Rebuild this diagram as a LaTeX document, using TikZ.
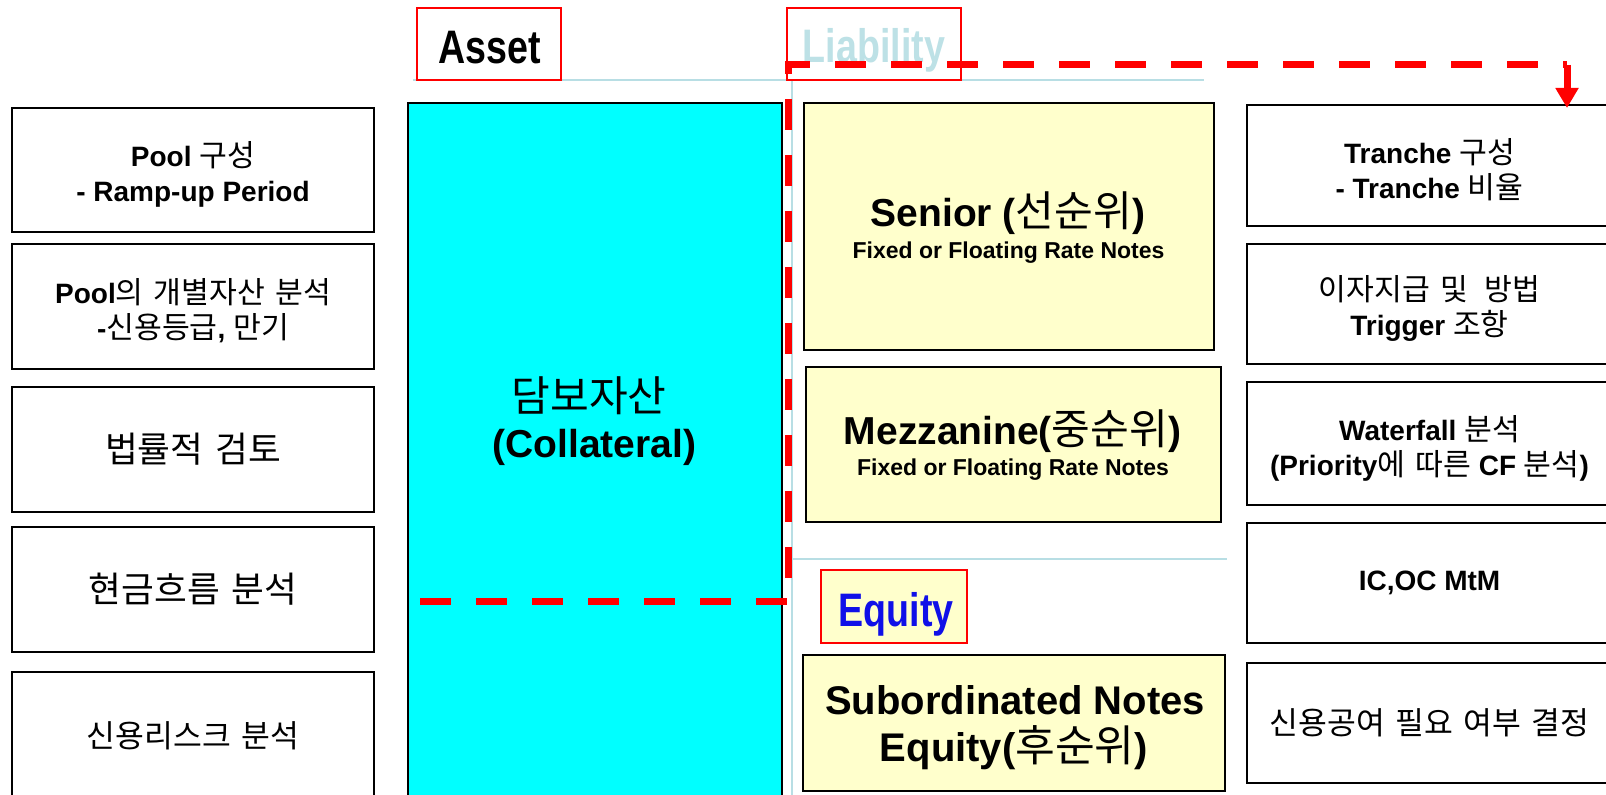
\documentclass[tikz,border=0pt]{standalone}
\usepackage{fontspec}
\usepackage{graphicx}
\setmainfont{Liberation Sans}
\newfontfamily\krfont[WordSpace=1.5,Scale=1.08]{Noto Sans CJK KR}
\usetikzlibrary{arrows.meta}
\newcommand\kr[1]{{\krfont\mdseries #1}}
\newcommand\fs[2]{\fontsize{#1}{#2}\selectfont}
\newcommand\cond[1]{\scalebox{0.8}[1]{#1}}
\newcommand\topstrut{\rule{0pt}{17pt}}
\definecolor{cyanfill}{HTML}{00FFFF}
\definecolor{lyellow}{HTML}{FFFFCC}
\definecolor{lblue}{HTML}{B8DEE4}
\definecolor{liabtxt}{HTML}{BDE1E6}
\definecolor{eqblue}{HTML}{1010E8}
\begin{document}
\begin{tikzpicture}[x=0.5pt,y=-0.5pt,
  box/.style={draw=black, line width=1pt, fill=white, inner sep=0pt, align=center,
              font=\fs{14}{17.5}\bfseries},
  ybox/.style={box, fill=lyellow},
  cbox/.style={box, fill=cyanfill},
  lbl/.style={draw=red, line width=0.75pt, inner sep=0pt},
  lbltext/.style={anchor=base, inner sep=0pt, font=\fs{23.5}{24}\bfseries},
  sep/.style={draw=lblue, line width=1pt},
  reddash/.style={draw=red, line width=3.5pt, dash pattern=on 15.5pt off 12.5pt},
  redarrow/.style={draw=red, line width=3.5pt, -{Triangle[width=11pt,length=10pt]}},
  big/.style={anchor=base, inner sep=0pt, font=\fs{19.5}{20}\bfseries},
  small/.style={anchor=base, inner sep=0pt, font=\fs{11.5}{12}\bfseries}
]
\useasboundingbox (0,0) rectangle (1606,795);
\fill[white] (0,0) rectangle (1606,795);

% separator lines
\coordinate (s1a) at (413,80);
\coordinate (s1b) at (1204,80);
\coordinate (s2a) at (792,80);
\coordinate (s2b) at (792,800);
\coordinate (s3a) at (792,559);
\coordinate (s3b) at (1227,559);
\draw[sep] (s1a) -- (s1b);
\draw[sep] (s2a) -- (s2b);
\draw[sep] (s3a) -- (s3b);

% header labels
\node[lbl, minimum width=72pt, minimum height=36pt] (asset) at (489,44) {};
\node[lbltext] (assetT) at (490,64) {\cond{Asset}};
\node[lbl, minimum width=87pt, minimum height=36pt] (liab) at (874,44) {};
\node[lbltext, text=liabtxt] (liabT) at (874,63) {\cond{Liability}};

% left column
\node[box, minimum width=181pt, minimum height=62pt] (L1) at (193,170)
  {\topstrut Pool \kr{구성}\\- Ramp-up Period};
\node[box, minimum width=181pt, minimum height=62.5pt] (L2) at (193,306.5)
  {\topstrut Pool\kr{의 개별자산 분석}\\-\kr{신용등급}, \kr{만기}};
\node[box, minimum width=181pt, minimum height=62.5pt, font=\fs{16.5}{18}] (L3) at (193,449.5)
  {\kr{법률적 검토}};
\node[box, minimum width=181pt, minimum height=62.5pt, font=\fs{16.5}{18}] (L4) at (193,589.5)
  {\kr{현금흐름 분석}};
\node[box, minimum width=181pt, minimum height=64pt, font=\fs{14.5}{16}] (L5) at (193,736)
  {\kr{신용리스크 분석}};

% collateral
\node[cbox, minimum width=187pt, minimum height=348.5pt] (coll) at (595,451.5) {};
\node[big, font=\fs{19.5}{20}] (collT1) at (589,412) {\kr{담보자산}};
\node[big] (collT2) at (594.5,458) {(Collateral)};

% liabilities
\node[ybox, minimum width=205pt, minimum height=123.5pt] (sen) at (1009,226.5) {};
\node[big] (senT) at (1008,227) {Senior (\kr{선순위})};
\node[small] (senS) at (1008.5,259) {Fixed or Floating Rate Notes};

\node[ybox, minimum width=207.5pt, minimum height=77.5pt] (mez) at (1013.5,444.5) {};
\node[big] (mezT) at (1012.5,445) {Mezzanine(\kr{중순위})};
\node[small] (mezS) at (1013,476) {Fixed or Floating Rate Notes};

\node[lbl, fill=lyellow, minimum width=73pt, minimum height=36.5pt] (eq) at (894,606.5) {};
\node[lbltext, text=eqblue] (eqT) at (896,627) {\cond{Equity}};

\node[ybox, minimum width=211pt, minimum height=68pt] (sub) at (1014,723) {};
\node[big, font=\fs{20}{20}\bfseries] (subT) at (1015,715) {Subordinated Notes};
\node[big, font=\fs{20}{20}\bfseries] (subS) at (1014,762) {Equity(\kr{후순위})};

% right column
\node[box, minimum width=182.5pt, minimum height=60.5pt] (R1) at (1429.5,165.5)
  {\topstrut Tranche \kr{구성}\\- Tranche \kr{비율}};
\node[box, minimum width=182.5pt, minimum height=60pt] (R2) at (1429.5,304)
  {\topstrut\kr{이자지급 및}\hspace{0.6em}\kr{방법}\\Trigger \kr{조항}};
\node[box, minimum width=182.5pt, minimum height=61.5pt] (R3) at (1429.5,443.5)
  {\topstrut Waterfall \kr{분석}\\(Priority\kr{에 따른} CF \kr{분석})};
\node[box, minimum width=182.5pt, minimum height=60pt] (R4) at (1429.5,583)
  {IC,OC MtM};
\node[box, minimum width=182.5pt, minimum height=60pt, font=\fs{14.5}{17}] (R5) at (1429.5,723)
  {\kr{신용공여 필요 여부 결정}};

% red dashed flow
\coordinate (d0) at (420,602);
\coordinate (d1) at (788,602);
\coordinate (d2) at (788,65);
\coordinate (d3) at (1567,65);
\coordinate (d4) at (1567,108);
\draw[reddash] (d0) -- (d1) -- (d2) -- (d3);
\draw[redarrow] (d3) -- (d4);
\end{tikzpicture}
\end{document}
